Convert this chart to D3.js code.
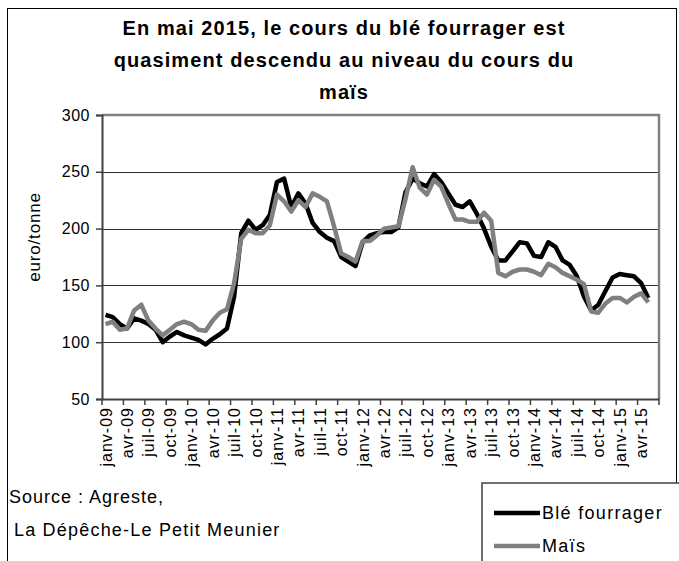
<!DOCTYPE html>
<html>
<head>
<meta charset="utf-8">
<script src="https://cdn.jsdelivr.net/npm/d3@7"></script>
<style>
  body { margin: 0; background: #fff; }
  svg { display: block; font-family: "Liberation Sans", Arial, sans-serif; }
</style>
</head>
<body>
<div id="chart"></div>
<script>
// categories: janv-09 .. juin-15 (last one empty)
var monthNames = ["janv", "févr", "mars", "avr", "mai", "juin", "juil", "août", "sept", "oct", "nov", "déc"];
var years = ["09", "10", "11", "12", "13", "14", "15"];
var months = [];
years.forEach(function (yr) {
  monthNames.forEach(function (m, i) {
    if (yr === "15" && i > 5) return;
    months.push(m + "-" + yr);
  });
});

var tickLabels = ["janv-09", "avr-09", "juil-09", "oct-09", "janv-10", "avr-10", "juil-10", "oct-10",
  "janv-11", "avr-11", "juil-11", "oct-11", "janv-12", "avr-12", "juil-12", "oct-12",
  "janv-13", "avr-13", "juil-13", "oct-13", "janv-14", "avr-14", "juil-14", "oct-14",
  "janv-15", "avr-15"];

var yTicks = [50, 100, 150, 200, 250, 300];

// euro/tonne, janv-09 .. mai-15
var ble = [124, 122, 116, 112, 121, 119, 116, 111, 100, 105, 109, 106,
  104, 102, 98, 103, 107, 112, 140, 196, 207, 199, 203, 212,
  241, 244, 219, 231, 222, 205, 197, 192, 189, 175, 171, 167,
  188, 194, 196, 197, 197, 201, 232, 244, 240, 237, 248, 241,
  231, 221, 219, 224, 213, 200, 184, 172, 172, 180, 188, 187,
  176, 175, 188, 184, 172, 168, 158, 140, 128, 133, 145, 157,
  160, 159, 158, 152, 139];

var mais = [116, 118, 111, 112, 128, 133, 119, 112, 106, 111, 116, 118,
  116, 111, 110, 119, 126, 129, 152, 191, 199, 196, 196, 203,
  230, 224, 215, 225, 219, 231, 228, 224, 202, 178, 175, 171,
  189, 189, 194, 200, 201, 202, 226, 254, 236, 230, 243, 237,
  222, 208, 208, 206, 206, 214, 207, 161, 158, 162, 164, 164,
  162, 159, 169, 166, 161, 158, 155, 151, 127, 126, 134, 139,
  139, 135, 140, 143, 135];

var series = [
  { name: "Blé fourrager", values: ble, color: "#000000" },
  { name: "Maïs", values: mais, color: "#808080" }
];

var W = 679, H = 561;
var plot = { left: 102, right: 659, top: 115, bottom: 399 };

var svg = d3.select("#chart").append("svg")
  .attr("width", W).attr("height", H);

// outer frame
svg.append("rect")
  .attr("x", 7.5).attr("y", 8.5)
  .attr("width", 669).attr("height", 560)
  .attr("fill", "#fff").attr("stroke", "#000").attr("stroke-width", 1);

var x = d3.scaleBand().domain(months).range([plot.left, plot.right]).padding(0);
var y = d3.scaleLinear().domain([50, 300]).range([plot.bottom, plot.top]);

// title
var title = ["En mai 2015, le cours du blé fourrager est",
  "quasiment descendu au niveau du cours du", "maïs"];
svg.append("g").selectAll("text").data(title).join("text")
  .attr("x", 344).attr("y", function (d, i) { return 35 + i * 32; })
  .attr("text-anchor", "middle")
  .style("font-size", "20px").style("font-weight", "bold")
  .style("letter-spacing", "1.1px")
  .text(function (d) { return d; });

// gridlines
svg.append("g").selectAll("line").data(yTicks.slice(1)).join("line")
  .attr("x1", plot.left).attr("x2", plot.right)
  .attr("y1", function (d) { return Math.round(y(d)) + 0.5; })
  .attr("y2", function (d) { return Math.round(y(d)) + 0.5; })
  .attr("stroke", "#303030").attr("stroke-width", 1);

// plot border (top/right)
svg.append("path")
  .attr("d", "M" + plot.left + "," + plot.top + "H" + plot.right + "V" + plot.bottom)
  .attr("fill", "none").attr("stroke", "#808080").attr("stroke-width", 2.5);

// y axis
var yAxis = d3.axisLeft(y).tickValues(yTicks).tickSize(6).tickPadding(6);
var gy = svg.append("g").attr("transform", "translate(" + plot.left + ",0)").call(yAxis);
gy.select(".domain").attr("stroke", "#404040").attr("stroke-width", 2);
gy.selectAll(".tick line").attr("stroke", "#404040").attr("stroke-width", 1.5);
gy.selectAll("text").style("font-size", "16px").attr("fill", "#000")
  .style("font-family", "Liberation Sans, Arial, sans-serif")
  .style("letter-spacing", "0.5px");

// x axis
var xAxis = d3.axisBottom(x).tickValues(tickLabels).tickSize(0).tickPadding(0);
var gx = svg.append("g").attr("transform", "translate(0," + plot.bottom + ")").call(xAxis);
gx.select(".domain").attr("stroke", "#404040").attr("stroke-width", 2);
gx.selectAll("text")
  .style("font-size", "16px").attr("fill", "#000")
  .style("font-family", "Liberation Sans, Arial, sans-serif")
  .style("letter-spacing", "1px")
  .attr("text-anchor", "end")
  .attr("dy", null)
  .attr("transform", "translate(6,8) rotate(-90)")
  .attr("y", 0).attr("x", 0);

// x tick marks between categories every 3 months
var tickIdx = d3.range(0, months.length, 3);
svg.append("g").selectAll("line").data(tickIdx).join("line")
  .attr("x1", function (i) { return x(months[i]); })
  .attr("x2", function (i) { return x(months[i]); })
  .attr("y1", plot.bottom).attr("y2", plot.bottom + 6)
  .attr("stroke", "#404040").attr("stroke-width", 1.5);
svg.append("line")
  .attr("x1", plot.right).attr("x2", plot.right)
  .attr("y1", plot.bottom).attr("y2", plot.bottom + 6)
  .attr("stroke", "#404040").attr("stroke-width", 1.5);

// y axis title
svg.append("text")
  .attr("transform", "translate(40,237) rotate(-90)")
  .attr("text-anchor", "middle")
  .style("font-size", "17px")
  .style("letter-spacing", "0.8px")
  .text("euro/tonne");

// lines
var line = d3.line()
  .x(function (d, i) { return x(months[i]) + x.bandwidth() / 2; })
  .y(function (d) { return y(d); });

svg.append("g").selectAll("path").data(series).join("path")
  .attr("d", function (d) { return line(d.values); })
  .attr("fill", "none")
  .attr("stroke", function (d) { return d.color; })
  .attr("stroke-width", 4.5)
  .attr("stroke-linejoin", "round");

// source
svg.append("text").attr("x", 9).attr("y", 503)
  .style("font-size", "18px").style("letter-spacing", "1px")
  .text("Source : Agreste,");
svg.append("text").attr("x", 14).attr("y", 536)
  .style("font-size", "18px").style("letter-spacing", "1.2px")
  .text("La Dépêche-Le Petit Meunier");

// legend
var legend = svg.append("g");
legend.append("rect")
  .attr("x", 482).attr("y", 483).attr("width", 210).attr("height", 100)
  .attr("fill", "#fff").attr("stroke", "#404040").attr("stroke-width", 1.5);
var items = legend.selectAll("g.item").data(series).join("g").attr("class", "item")
  .attr("transform", function (d, i) { return "translate(0," + (513 + i * 33) + ")"; });
items.append("line")
  .attr("x1", 494).attr("x2", 540).attr("y1", 0).attr("y2", 0)
  .attr("stroke", function (d) { return d.color; }).attr("stroke-width", 4.5);
items.append("text")
  .attr("x", 542).attr("y", 6).style("font-size", "18px")
  .style("letter-spacing", "1.3px")
  .text(function (d) { return d.name; });
</script>
</body>
</html>
